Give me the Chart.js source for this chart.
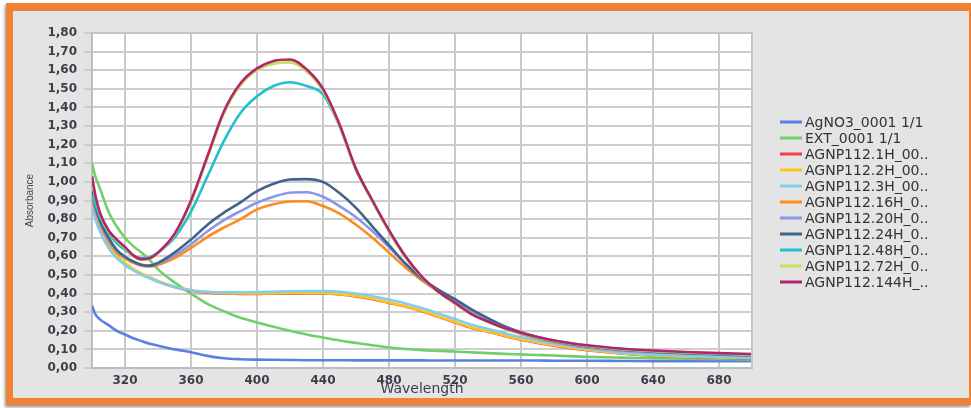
<!DOCTYPE html>
<html>
<head>
<meta charset="utf-8">
<script src="https://cdn.jsdelivr.net/npm/chart.js@4.4.1/dist/chart.umd.min.js"></script>
<style>
  html, body { margin: 0; padding: 0; background: #fff; }
  .wrap { position: relative; width: 971px; height: 408px; overflow: hidden; }
  .frame {
    position: absolute; left: 6px; top: 3px; width: 956px; height: 387px;
    background: #e4e4e4;
    border-style: solid; border-color: #ef8234;
    border-width: 8px 2px 7px 7px;
    box-shadow: -1px 2px 3px rgba(0,0,0,0.45);
  }
  canvas { position: absolute; left: 0; top: 0; }
</style>
</head>
<body>
<div class="wrap">
  <div class="frame"></div>
  <canvas id="spectre" width="971" height="408"></canvas>
</div>
<script>
// Wavelength grid (nm)
const wavelengths = [300, 302, 305, 310, 315, 320, 325, 330, 335, 340, 350, 360, 370, 380, 390, 400, 410, 420, 430, 440,
  450, 460, 470, 480, 490, 500, 510, 520, 530, 540, 550, 560, 570, 580, 600, 620, 640, 660, 680, 700];

const xTicks = [320, 360, 400, 440, 480, 520, 560, 600, 640, 680];

const seriesNames = ['AgNO3_0001 1/1', 'EXT_0001 1/1', 'AGNP112.1H_00..', 'AGNP112.2H_00..', 'AGNP112.3H_00..',
  'AGNP112.16H_0..', 'AGNP112.20H_0..', 'AGNP112.24H_0..', 'AGNP112.48H_0..', 'AGNP112.72H_0..', 'AGNP112.144H_..'];

const seriesColors = ['#5a80e0', '#6fd06b', '#f0404a', '#ffc61a', '#80cdf2', '#ff8a1e', '#8c96e8', '#416389', '#22bfcf', '#c3e35a', '#b1246e'];

// Absorbance values
const agno3 = [0.335, 0.29, 0.26, 0.23, 0.20, 0.18, 0.16, 0.145, 0.13, 0.12, 0.10, 0.085, 0.065, 0.052, 0.047, 0.045, 0.044, 0.043, 0.042, 0.042,
  0.042, 0.041, 0.041, 0.041, 0.041, 0.041, 0.040, 0.040, 0.040, 0.040, 0.040, 0.040, 0.040, 0.039, 0.039, 0.038, 0.037, 0.037, 0.036, 0.036];
const ext = [1.10, 1.03, 0.96, 0.84, 0.76, 0.70, 0.655, 0.62, 0.58, 0.53, 0.46, 0.40, 0.345, 0.305, 0.27, 0.245, 0.222, 0.20, 0.18, 0.164,
  0.148, 0.135, 0.122, 0.11, 0.102, 0.096, 0.092, 0.089, 0.084, 0.080, 0.076, 0.073, 0.070, 0.067, 0.060, 0.056, 0.053, 0.050, 0.048, 0.046];
const h1 = [0.90, 0.82, 0.75, 0.66, 0.60, 0.56, 0.53, 0.505, 0.485, 0.465, 0.435, 0.415, 0.405, 0.40, 0.398, 0.398, 0.40, 0.40, 0.40, 0.40,
  0.395, 0.385, 0.37, 0.35, 0.33, 0.305, 0.275, 0.245, 0.215, 0.195, 0.172, 0.152, 0.135, 0.12, 0.095, 0.078, 0.066, 0.059, 0.055, 0.052];
const h2 = [0.91, 0.83, 0.755, 0.665, 0.605, 0.565, 0.533, 0.508, 0.488, 0.468, 0.438, 0.418, 0.407, 0.402, 0.40, 0.40, 0.402, 0.403, 0.403, 0.402,
  0.397, 0.387, 0.372, 0.352, 0.332, 0.307, 0.277, 0.247, 0.218, 0.197, 0.175, 0.155, 0.137, 0.122, 0.097, 0.08, 0.068, 0.061, 0.057, 0.054];
const h3 = [0.87, 0.80, 0.73, 0.645, 0.59, 0.553, 0.525, 0.50, 0.482, 0.464, 0.436, 0.418, 0.41, 0.407, 0.407, 0.408, 0.41, 0.412, 0.413, 0.413,
  0.41, 0.40, 0.386, 0.367, 0.347, 0.322, 0.293, 0.263, 0.233, 0.21, 0.187, 0.165, 0.146, 0.13, 0.103, 0.084, 0.071, 0.063, 0.058, 0.055];
const h16 = [0.92, 0.85, 0.77, 0.68, 0.62, 0.59, 0.565, 0.55, 0.545, 0.553, 0.59, 0.645, 0.705, 0.755, 0.80, 0.852, 0.88, 0.895, 0.896, 0.87,
  0.83, 0.77, 0.70, 0.62, 0.54, 0.47, 0.41, 0.355, 0.30, 0.255, 0.215, 0.183, 0.158, 0.138, 0.11, 0.094, 0.084, 0.077, 0.071, 0.066];
const h20 = [0.93, 0.86, 0.78, 0.69, 0.63, 0.595, 0.57, 0.553, 0.548, 0.56, 0.605, 0.665, 0.735, 0.795, 0.843, 0.888, 0.92, 0.942, 0.944, 0.92,
  0.87, 0.81, 0.735, 0.65, 0.56, 0.48, 0.42, 0.365, 0.308, 0.26, 0.218, 0.186, 0.161, 0.141, 0.113, 0.096, 0.085, 0.078, 0.072, 0.067];
const h24 = [0.95, 0.87, 0.79, 0.70, 0.635, 0.598, 0.572, 0.555, 0.55, 0.565, 0.62, 0.69, 0.77, 0.835, 0.89, 0.95, 0.99, 1.013, 1.015, 1.00,
  0.94, 0.86, 0.76, 0.66, 0.56, 0.48, 0.42, 0.37, 0.315, 0.268, 0.225, 0.192, 0.166, 0.145, 0.117, 0.099, 0.088, 0.08, 0.074, 0.069];
const h48 = [0.93, 0.88, 0.81, 0.725, 0.67, 0.635, 0.605, 0.59, 0.595, 0.62, 0.70, 0.84, 1.03, 1.22, 1.37, 1.46, 1.515, 1.535, 1.515, 1.47,
  1.30, 1.065, 0.895, 0.735, 0.595, 0.487, 0.408, 0.348, 0.29, 0.25, 0.215, 0.188, 0.165, 0.147, 0.12, 0.102, 0.09, 0.082, 0.076, 0.07];
const h72 = [1.00, 0.92, 0.825, 0.735, 0.685, 0.645, 0.60, 0.582, 0.587, 0.617, 0.715, 0.89, 1.13, 1.37, 1.52, 1.60, 1.635, 1.642, 1.595, 1.49,
  1.30, 1.065, 0.895, 0.735, 0.595, 0.487, 0.408, 0.345, 0.288, 0.248, 0.213, 0.188, 0.165, 0.146, 0.12, 0.103, 0.092, 0.084, 0.078, 0.073];
const h144 = [1.03, 0.93, 0.83, 0.74, 0.69, 0.65, 0.605, 0.585, 0.59, 0.62, 0.72, 0.90, 1.14, 1.38, 1.53, 1.61, 1.65, 1.658, 1.605, 1.50,
  1.31, 1.07, 0.90, 0.74, 0.60, 0.49, 0.41, 0.35, 0.29, 0.25, 0.215, 0.19, 0.167, 0.148, 0.122, 0.105, 0.094, 0.086, 0.08, 0.075];

const seriesValues = [agno3, ext, h1, h2, h3, h16, h20, h24, h48, h72, h144];

// White plot area with a grey frame on top/right
const plotBackground = {
  id: 'plotBackground',
  beforeDraw(chart) {
    const { ctx, chartArea: a } = chart;
    ctx.save();
    ctx.fillStyle = '#ffffff';
    ctx.fillRect(a.left, a.top, a.right - a.left, a.bottom - a.top);
    ctx.restore();
  },
  afterDatasetsDraw(chart) {
    const { ctx, chartArea: a } = chart;
    ctx.save();
    ctx.strokeStyle = '#c4c4c4';
    ctx.lineWidth = 2;
    ctx.beginPath();
    ctx.moveTo(a.left, a.top);
    ctx.lineTo(a.right, a.top);
    ctx.lineTo(a.right, a.bottom);
    ctx.stroke();
    ctx.restore();
  }
};

// Legend drawn on the right, in dataset order
const sideLegend = {
  id: 'sideLegend',
  afterDraw(chart) {
    const ctx = chart.ctx;
    ctx.save();
    ctx.font = '14px "DejaVu Sans", Verdana, sans-serif';
    ctx.textBaseline = 'middle';
    seriesNames.forEach((name, i) => {
      const y = 122 + i * 16;
      ctx.strokeStyle = seriesColors[i];
      ctx.lineWidth = 3;
      ctx.beginPath();
      ctx.moveTo(780, y);
      ctx.lineTo(802, y);
      ctx.stroke();
      ctx.fillStyle = '#333333';
      ctx.fillText(name, 805, y + 1);
    });
    ctx.restore();
  }
};

const datasets = seriesNames.map((name, i) => ({
  label: name,
  data: wavelengths.map((w, j) => ({ x: w, y: seriesValues[i][j] })),
  borderColor: seriesColors[i],
  backgroundColor: seriesColors[i],
  borderWidth: 2.6,
  pointRadius: 0,
  tension: 0.4,
  cubicInterpolationMode: 'monotone',
  order: seriesNames.length - i
}));

const ctx = document.getElementById('spectre').getContext('2d');
new Chart(ctx, {
  type: 'line',
  data: { datasets },
  plugins: [plotBackground, sideLegend],
  options: {
    responsive: false,
    animation: false,
    layout: { padding: { top: 33, right: 219, bottom: 0, left: 0 } },
    plugins: {
      legend: { display: false },
      tooltip: { enabled: false }
    },
    scales: {
      x: {
        type: 'linear',
        min: 300,
        max: 700,
        afterBuildTicks: axis => { axis.ticks = xTicks.map(v => ({ value: v })); },
        afterFit: axis => { axis.height = 40; },
        grid: { color: '#c8c8c8', lineWidth: 2, drawTicks: false },
        border: { color: '#bdbdbd', width: 2 },
        ticks: {
          padding: 6,
          maxRotation: 0,
          color: '#3e3e4a',
          font: { family: '"DejaVu Sans", Verdana, sans-serif', size: 12, weight: 'bold' }
        },
        title: {
          display: true,
          text: 'Wavelength',
          color: '#3e3e4a',
          padding: { top: 0, bottom: 10 },
          font: { family: '"DejaVu Sans", Verdana, sans-serif', size: 14 }
        }
      },
      y: {
        min: 0,
        max: 1.8,
        afterFit: axis => { axis.width = 92; },
        grid: { color: '#cdcdcd', lineWidth: 2, tickLength: 8 },
        border: { color: '#bdbdbd', width: 2 },
        ticks: {
          stepSize: 0.1,
          padding: 7,
          color: '#3e3e4a',
          font: { family: '"DejaVu Sans", Verdana, sans-serif', size: 12, weight: 'bold' },
          callback: v => v.toFixed(2).replace('.', ',')
        },
        title: {
          display: true,
          text: 'Absorbance',
          color: '#444444',
          padding: { top: 24, bottom: 0 },
          font: { family: '"Liberation Sans Narrow", "Arial Narrow", sans-serif', size: 10 }
        }
      }
    }
  }
});
</script>
</body>
</html>
